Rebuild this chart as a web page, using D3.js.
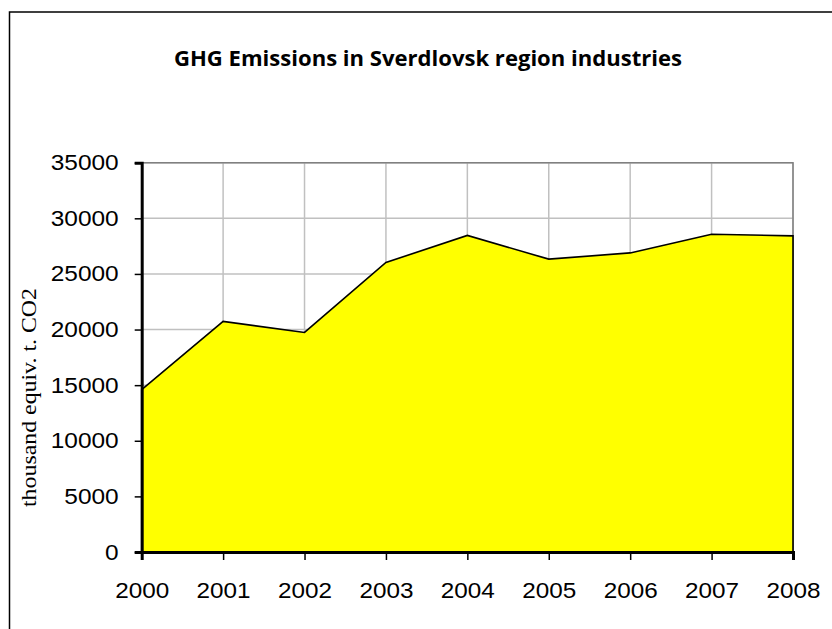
<!DOCTYPE html>
<html><head><meta charset="utf-8">
<script src="https://cdn.jsdelivr.net/npm/d3@7"></script>
<style>body{margin:0;background:#fff}svg{display:block}</style>
</head><body>
<svg id="c" width="832" height="629"></svg>
<script>
const years = ["2000","2001","2002","2003","2004","2005","2006","2007","2008"];
const emissions = [14600, 20730, 19740, 26030, 28460, 26330, 26890, 28570, 28420];
const yTicks = [0, 5000, 10000, 15000, 20000, 25000, 30000, 35000];
const title = "GHG Emissions in Sverdlovsk region industries";
const yTitle = "thousand equiv. t. CO2";

const svg = d3.select("#c");
const L = 141.7, R = 793, T = 162.7, B = 552;
const x = d3.scalePoint().domain(years).range([L, R]);
const y = d3.scaleLinear().domain([0, 35000]).range([B, T]);

// outer frame
svg.append("rect").attr("x", 9.5).attr("y", 12).attr("width", 900).attr("height", 700)
  .attr("fill", "none").attr("stroke", "#000").attr("stroke-width", 1.5);

// title
svg.append("text").attr("x", 428).attr("y", 66).attr("text-anchor", "middle")
  .attr("font-family", "'Open Sans', 'Liberation Sans', sans-serif").attr("font-weight", "bold")
  .attr("font-size", 21).attr("textLength", 508).attr("lengthAdjust", "spacingAndGlyphs")
  .text(title);

// gridlines
svg.append("g").selectAll("line.h").data(yTicks).join("line")
  .attr("x1", L).attr("x2", R).attr("y1", d => y(d)).attr("y2", d => y(d))
  .attr("stroke", "#c0c0c0").attr("stroke-width", 1.5);
svg.append("g").selectAll("line.v").data(years).join("line")
  .attr("x1", d => x(d)).attr("x2", d => x(d)).attr("y1", T).attr("y2", B)
  .attr("stroke", "#c0c0c0").attr("stroke-width", 1.5);
// plot border top/right
svg.append("path").attr("d", `M${L},${T}H${R}V${B}`).attr("fill", "none")
  .attr("stroke", "#808080").attr("stroke-width", 1.5);

// area
const area = d3.area().x((d, i) => x(years[i])).y0(y(0)).y1(d => y(d));
svg.append("path").datum(emissions).attr("d", area)
  .attr("fill", "#ffff00").attr("stroke", "#000").attr("stroke-width", 1.6)
  .attr("stroke-linejoin", "miter");

// y axis
const yAxis = d3.axisLeft(y).tickValues(yTicks).tickSize(7).tickPadding(16).tickFormat(d3.format("d"));
const gy = svg.append("g").attr("transform", `translate(${L},0)`).call(yAxis);
gy.select(".domain").attr("stroke", "#000").attr("stroke-width", 3);
gy.selectAll(".tick line").attr("stroke", "#000").attr("stroke-width", 1.5);
gy.selectAll("text").attr("font-family", "'Liberation Sans', Arial, sans-serif")
  .attr("font-size", 22).attr("fill", "#000").attr("lengthAdjust", "spacingAndGlyphs")
  .each(function(d){ d3.select(this).attr("textLength", String(d).length * 13.6); });

// x axis
const xAxis = d3.axisBottom(x).tickSize(8).tickPadding(22);
const gx = svg.append("g").attr("transform", `translate(0,${B})`).call(xAxis);
gx.select(".domain").attr("stroke", "#000").attr("stroke-width", 3);
gx.selectAll(".tick line").attr("stroke", "#000").attr("stroke-width", 1.5);
gx.selectAll("text").attr("font-family", "'Liberation Sans', Arial, sans-serif")
  .attr("font-size", 22).attr("fill", "#000").attr("textLength", 54).attr("lengthAdjust", "spacingAndGlyphs");

// y title
svg.append("text").attr("transform", `translate(36,397.5) rotate(-90)`).attr("text-anchor", "middle")
  .attr("font-family", "'Liberation Serif', 'Times New Roman', serif").attr("font-size", 22)
  .attr("textLength", 219).attr("lengthAdjust", "spacingAndGlyphs")
  .text(yTitle);
</script>
</body></html>
